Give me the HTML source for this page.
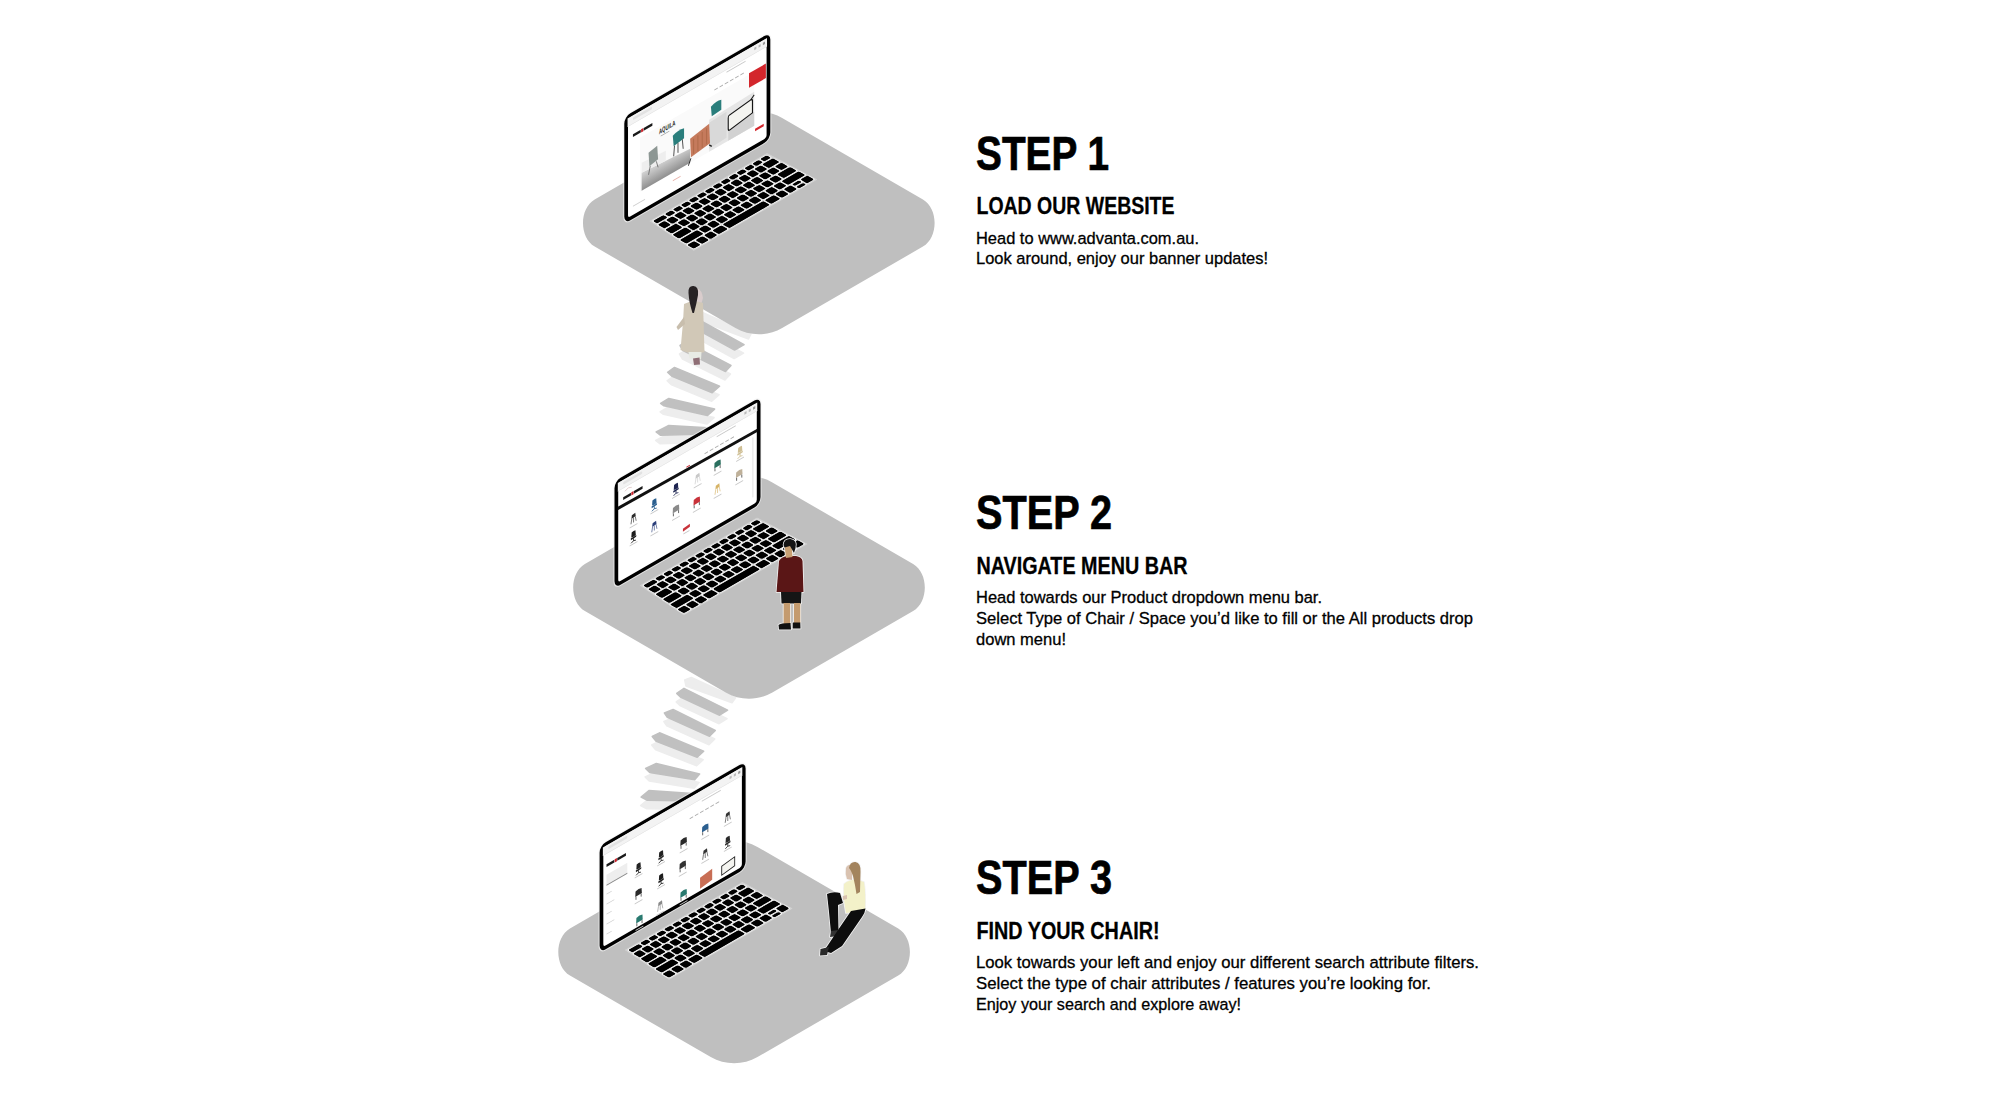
<!DOCTYPE html>
<html><head><meta charset="utf-8"><title>Steps</title>
<style>html,body{margin:0;padding:0;background:#fff;width:2000px;height:1100px;overflow:hidden}svg{display:block}</style>
</head><body><svg width="2000" height="1100" viewBox="0 0 2000 1100"><rect width="2000" height="1100" fill="#fff"/><path d="M690 307L751 334L748.5 339L690 317Z" fill="#ededed" stroke="#ededed" stroke-width="1.5" stroke-linejoin="round"/><path d="M686.5 328.5L692.5 325L743.6 353.2L734.1 358.6L689.5 334Z" fill="#ededed" stroke="#ededed" stroke-width="1.5" stroke-linejoin="round"/><path d="M687 320L693 316.5L744.1 344.7L734.6 350.1L690 325.5Z" fill="#c0c0c0" stroke="#c0c0c0" stroke-width="1.5" stroke-linejoin="round"/><path d="M679.5 354L685.5 350.5L730.5 374L725 380L682.5 359Z" fill="#ededed" stroke="#ededed" stroke-width="1.5" stroke-linejoin="round"/><path d="M680 345.5L686 342L731 365.5L725.5 371.5L683 350.5Z" fill="#c0c0c0" stroke="#c0c0c0" stroke-width="1.5" stroke-linejoin="round"/><path d="M667.1 380.8L674 375.9L719.1 394.7L711.7 401.2L671.6 384.9Z" fill="#ededed" stroke="#ededed" stroke-width="1.5" stroke-linejoin="round"/><path d="M667.6 372.3L674.5 367.4L719.6 386.2L712.2 392.7L672.1 376.4Z" fill="#c0c0c0" stroke="#c0c0c0" stroke-width="1.5" stroke-linejoin="round"/><path d="M660.1 411.9L668.3 407L714.1 417.6L706.8 424.1L663.4 414.3Z" fill="#ededed" stroke="#ededed" stroke-width="1.5" stroke-linejoin="round"/><path d="M660.6 403.4L668.8 398.5L714.6 409.1L707.3 415.6L663.9 405.8Z" fill="#c0c0c0" stroke="#c0c0c0" stroke-width="1.5" stroke-linejoin="round"/><path d="M655.6 440.5L668.3 434L711.5 436.5L705.5 442.5L660.1 443.8Z" fill="#ededed" stroke="#ededed" stroke-width="1.5" stroke-linejoin="round"/><path d="M656.1 432L668.8 425.5L712 428L706 434L660.6 435.3Z" fill="#c0c0c0" stroke="#c0c0c0" stroke-width="1.5" stroke-linejoin="round"/><path d="M684.7 680L691.3 677.4L735.6 697.7L732 702.8L686 686Z" fill="#ededed" stroke="#ededed" stroke-width="1.5" stroke-linejoin="round"/><path d="M676.2 701.9L683.5 696.8L727.1 718.6L719.1 723.7L679.9 705.5Z" fill="#ededed" stroke="#ededed" stroke-width="1.5" stroke-linejoin="round"/><path d="M676.7 693.4L684 688.3L727.6 710.1L719.6 715.2L680.4 697Z" fill="#c0c0c0" stroke="#c0c0c0" stroke-width="1.5" stroke-linejoin="round"/><path d="M663.9 721.5L672.6 717.9L714.8 739L709 744.8L666.8 725.9Z" fill="#ededed" stroke="#ededed" stroke-width="1.5" stroke-linejoin="round"/><path d="M664.4 713L673.1 709.4L715.3 730.5L709.5 736.3L667.3 717.4Z" fill="#c0c0c0" stroke="#c0c0c0" stroke-width="1.5" stroke-linejoin="round"/><path d="M651.7 745L659 741.3L703.2 759.7L696.7 765.8L655.8 749.9Z" fill="#ededed" stroke="#ededed" stroke-width="1.5" stroke-linejoin="round"/><path d="M652.2 736.5L659.5 732.8L703.7 751.2L697.2 757.3L656.3 741.4Z" fill="#c0c0c0" stroke="#c0c0c0" stroke-width="1.5" stroke-linejoin="round"/><path d="M645.1 776.9L655.8 772L699.1 782.6L694.2 788.3L649.2 781Z" fill="#ededed" stroke="#ededed" stroke-width="1.5" stroke-linejoin="round"/><path d="M645.6 768.4L656.3 763.5L699.6 774.1L694.7 779.8L649.7 772.5Z" fill="#c0c0c0" stroke="#c0c0c0" stroke-width="1.5" stroke-linejoin="round"/><path d="M640.6 805.5L648.4 799L699.5 802.5L694.5 809.5L646.8 808.8Z" fill="#ededed" stroke="#ededed" stroke-width="1.5" stroke-linejoin="round"/><path d="M641.1 797L648.9 790.5L700 794L695 801L647.3 800.3Z" fill="#c0c0c0" stroke="#c0c0c0" stroke-width="1.5" stroke-linejoin="round"/><g transform="translate(0,0)"><path d="M594.67 246.55C579.1 237.53 579.1 208.47 594.67 199.45L735.44 117.93C749.71 109.66 767.89 109.66 782.16 117.93L922.93 199.45C938.5 208.47 938.5 237.53 922.93 246.55L782.16 328.07C767.89 336.34 749.71 336.34 735.44 328.07Z" fill="#bfbfbf"/><path d="M620 228 L772 140 L818 166 L668 254Z" fill="#c9c9c9" opacity="0"/><g transform="matrix(0.8660254,-0.5,0.8660254,0.5,652,221)"><path d="M-1.0 -1.0 L133.8 -1.0 L136.6 53.41 L-5.2 53.41 Z" fill="#d2d2d2" stroke="#d2d2d2" stroke-width="1" stroke-linejoin="round"/><g fill="#000" stroke="#fff" stroke-width="0.9"><rect x="-0" y="0" width="13.16" height="5.91" rx="2"/><rect x="13.76" y="0" width="8.57" height="5.91" rx="2"/><rect x="22.93" y="0" width="8.57" height="5.91" rx="2"/><rect x="32.1" y="0" width="8.57" height="5.91" rx="2"/><rect x="41.28" y="0" width="8.57" height="5.91" rx="2"/><rect x="50.45" y="0" width="8.57" height="5.91" rx="2"/><rect x="59.62" y="0" width="8.57" height="5.91" rx="2"/><rect x="68.79" y="0" width="8.57" height="5.91" rx="2"/><rect x="77.97" y="0" width="8.57" height="5.91" rx="2"/><rect x="87.14" y="0" width="8.57" height="5.91" rx="2"/><rect x="96.31" y="0" width="8.57" height="5.91" rx="2"/><rect x="105.48" y="0" width="8.57" height="5.91" rx="2"/><rect x="114.66" y="0" width="8.57" height="5.91" rx="2"/><rect x="123.83" y="0" width="8.57" height="5.91" rx="2"/><rect x="-0.85" y="6.51" width="8.68" height="8.7" rx="2"/><rect x="8.43" y="6.51" width="8.68" height="8.7" rx="2"/><rect x="17.7" y="6.51" width="8.68" height="8.7" rx="2"/><rect x="26.98" y="6.51" width="8.68" height="8.7" rx="2"/><rect x="36.25" y="6.51" width="8.68" height="8.7" rx="2"/><rect x="45.53" y="6.51" width="8.68" height="8.7" rx="2"/><rect x="54.81" y="6.51" width="8.68" height="8.7" rx="2"/><rect x="64.08" y="6.51" width="8.68" height="8.7" rx="2"/><rect x="73.36" y="6.51" width="8.68" height="8.7" rx="2"/><rect x="82.63" y="6.51" width="8.68" height="8.7" rx="2"/><rect x="91.91" y="6.51" width="8.68" height="8.7" rx="2"/><rect x="101.18" y="6.51" width="8.68" height="8.7" rx="2"/><rect x="110.46" y="6.51" width="8.68" height="8.7" rx="2"/><rect x="119.74" y="6.51" width="13.31" height="8.7" rx="2"/><rect x="-1.7" y="15.81" width="13.47" height="8.7" rx="2"/><rect x="12.37" y="15.81" width="8.78" height="8.7" rx="2"/><rect x="21.75" y="15.81" width="8.78" height="8.7" rx="2"/><rect x="31.13" y="15.81" width="8.78" height="8.7" rx="2"/><rect x="40.51" y="15.81" width="8.78" height="8.7" rx="2"/><rect x="49.89" y="15.81" width="8.78" height="8.7" rx="2"/><rect x="59.27" y="15.81" width="8.78" height="8.7" rx="2"/><rect x="68.64" y="15.81" width="8.78" height="8.7" rx="2"/><rect x="78.02" y="15.81" width="8.78" height="8.7" rx="2"/><rect x="87.4" y="15.81" width="8.78" height="8.7" rx="2"/><rect x="96.78" y="15.81" width="8.78" height="8.7" rx="2"/><rect x="106.16" y="15.81" width="8.78" height="8.7" rx="2"/><rect x="115.54" y="15.81" width="8.78" height="8.7" rx="2"/><rect x="124.92" y="15.81" width="8.78" height="8.7" rx="2"/><rect x="-2.55" y="25.11" width="15.99" height="8.7" rx="2"/><rect x="14.04" y="25.11" width="8.88" height="8.7" rx="2"/><rect x="23.53" y="25.11" width="8.88" height="8.7" rx="2"/><rect x="33.01" y="25.11" width="8.88" height="8.7" rx="2"/><rect x="42.49" y="25.11" width="8.88" height="8.7" rx="2"/><rect x="51.98" y="25.11" width="8.88" height="8.7" rx="2"/><rect x="61.46" y="25.11" width="8.88" height="8.7" rx="2"/><rect x="70.94" y="25.11" width="8.88" height="8.7" rx="2"/><rect x="80.42" y="25.11" width="8.88" height="8.7" rx="2"/><rect x="89.91" y="25.11" width="8.88" height="8.7" rx="2"/><rect x="99.39" y="25.11" width="8.88" height="8.7" rx="2"/><rect x="108.87" y="25.11" width="8.88" height="8.7" rx="2"/><rect x="118.36" y="25.11" width="15.99" height="8.7" rx="2"/><rect x="-3.4" y="34.41" width="20.97" height="8.7" rx="2"/><rect x="18.17" y="34.41" width="8.99" height="8.7" rx="2"/><rect x="27.76" y="34.41" width="8.99" height="8.7" rx="2"/><rect x="37.34" y="34.41" width="8.99" height="8.7" rx="2"/><rect x="46.93" y="34.41" width="8.99" height="8.7" rx="2"/><rect x="56.51" y="34.41" width="8.99" height="8.7" rx="2"/><rect x="66.1" y="34.41" width="8.99" height="8.7" rx="2"/><rect x="75.69" y="34.41" width="8.99" height="8.7" rx="2"/><rect x="85.27" y="34.41" width="8.99" height="8.7" rx="2"/><rect x="94.86" y="34.41" width="8.99" height="8.7" rx="2"/><rect x="104.44" y="34.41" width="8.99" height="8.7" rx="2"/><rect x="114.03" y="34.41" width="20.97" height="8.7" rx="2"/><rect x="-4.25" y="43.71" width="9.09" height="8.7" rx="2"/><rect x="5.44" y="43.71" width="9.09" height="8.7" rx="2"/><rect x="15.13" y="43.71" width="9.09" height="8.7" rx="2"/><rect x="24.82" y="43.71" width="11.51" height="8.7" rx="2"/><rect x="36.93" y="43.71" width="47.85" height="8.7" rx="2"/><rect x="85.38" y="43.71" width="11.51" height="8.7" rx="2"/><rect x="97.49" y="43.71" width="9.09" height="8.7" rx="2"/><rect x="107.18" y="43.71" width="9.09" height="8.7" rx="2"/><rect x="116.87" y="43.71" width="9.09" height="4.35" rx="2"/><rect x="116.87" y="48.66" width="9.09" height="4.35" rx="2"/><rect x="126.56" y="43.71" width="9.09" height="8.7" rx="2"/></g></g><g transform="matrix(0.8660254,-0.5,0,1,624.3,116.8)"><rect x="-1.2" y="-1.2" width="171" height="109.4" rx="8" fill="#f2f2f2" opacity="0.7"/><rect x="0" y="0" width="168.6" height="107" rx="7" fill="#000"/><rect x="4.3" y="3.9" width="160" height="99.2" rx="2.5" fill="#fff"/><rect x="3.8" y="3.6" width="161" height="8.5" fill="#f3f3f3"/><rect x="3.8" y="11.6" width="161" height="0.6" fill="#dedede"/><rect x="10" y="5.8" width="22" height="2.6" rx="1" fill="#e2e2e2"/><rect x="150" y="6" width="2.5" height="2.5" fill="#bbb"/><rect x="155" y="6" width="2.5" height="2.5" fill="#bbb"/><rect x="160" y="6" width="2.5" height="2.5" fill="#999"/><rect x="10" y="22.5" width="9" height="2.6" fill="#1a1a1a"/><rect x="19.4" y="22.1" width="2.6" height="3.4" fill="#c8202a"/><rect x="22.4" y="22.5" width="10" height="2.6" fill="#1a1a1a"/><rect x="118" y="14" width="22" height="0.9" fill="#c8c8c8"/><rect x="104" y="24.8" width="4" height="0.9" fill="#aaa"/><rect x="110" y="24.8" width="4" height="0.9" fill="#aaa"/><rect x="116" y="24.8" width="4" height="0.9" fill="#aaa"/><rect x="122" y="24.8" width="4" height="0.9" fill="#aaa"/><rect x="128" y="24.8" width="4" height="0.9" fill="#aaa"/><rect x="134" y="24.8" width="4" height="0.9" fill="#aaa"/><rect x="18" y="30" width="132" height="54" fill="#fafafa"/><defs><linearGradient id="flr" x1="0" y1="0" x2="0" y2="1"><stop offset="0" stop-color="#d4d4d4"/><stop offset="1" stop-color="#8f8f8f"/></linearGradient></defs><path d="M20 66 L76 70 L76 84 L20 84Z" fill="url(#flr)"/><path d="M20 56 L48 58 L48 68 L20 66Z" fill="#eeeeee"/><path d="M98 52 L150 50 L150 84 L98 84Z" fill="#e6e6e6"/><path d="M98 55 L118 54 L118 80 L98 81Z" fill="#d9d9d9"/><path d="M120 72 L150 70 L150 84 L120 84Z" fill="#d2d2d2"/><text x="40" y="37.6" font-family="Liberation Sans, sans-serif" font-weight="bold" font-size="7.2" textLength="19" lengthAdjust="spacingAndGlyphs" fill="#222">AQUILA</text><rect x="42" y="40" width="10" height="0.8" fill="#999"/><path d="M28 50 L38 48 L39 62 L29 64Z" fill="#8d9794"/><path d="M30 64 L28 72 M37 63 L39 70" stroke="#666" stroke-width="0.8"/><path d="M56 47 Q62 44 69 46 L69 56 L57 58Z" fill="#2a7e7c"/><path d="M58 58 L57 68 M62 57 L62 67 M67 56 L68 66" stroke="#333" stroke-width="0.8"/><path d="M76 60 L98 56 L99 76 L77 79Z" fill="#c57a5c"/><path d="M80 62 L80 77 M85 61 L85 77 M90 60 L90 76 M95 59 L95 75" stroke="#a5603f" stroke-width="0.6"/><path d="M77 80 L74 86 M98 77 L101 80" stroke="#222" stroke-width="1.1"/><path d="M100 40 Q106 37 112 39 L112 49 L101 50Z" fill="#2a7e7c"/><path d="M121 59 L146 56 Q148 56 148 58 L148 70 L122 74 Q120 74 120 72 L120 61 Q120 59 121 59Z" fill="#f4f4f0" stroke="#151515" stroke-width="1.3"/><path d="M146 56 L150 53" stroke="#151515" stroke-width="1.3"/><rect x="144" y="28.5" width="19.5" height="14.5" fill="#d3262c"/><rect x="151" y="87.5" width="10" height="2.4" fill="#d3262c"/><rect x="56" y="91.5" width="9" height="0.9" fill="#e8b0a8"/><rect x="10" y="94" width="14" height="0.9" fill="#cfcfcf"/></g></g><g transform="translate(-9.8,364.5)"><path d="M594.67 246.55C579.1 237.53 579.1 208.47 594.67 199.45L735.44 117.93C749.71 109.66 767.89 109.66 782.16 117.93L922.93 199.45C938.5 208.47 938.5 237.53 922.93 246.55L782.16 328.07C767.89 336.34 749.71 336.34 735.44 328.07Z" fill="#bfbfbf"/><path d="M620 228 L772 140 L818 166 L668 254Z" fill="#c9c9c9" opacity="0"/><g transform="matrix(0.8660254,-0.5,0.8660254,0.5,652,221)"><path d="M-1.0 -1.0 L133.8 -1.0 L136.6 53.41 L-5.2 53.41 Z" fill="#d2d2d2" stroke="#d2d2d2" stroke-width="1" stroke-linejoin="round"/><g fill="#000" stroke="#fff" stroke-width="0.9"><rect x="-0" y="0" width="13.16" height="5.91" rx="2"/><rect x="13.76" y="0" width="8.57" height="5.91" rx="2"/><rect x="22.93" y="0" width="8.57" height="5.91" rx="2"/><rect x="32.1" y="0" width="8.57" height="5.91" rx="2"/><rect x="41.28" y="0" width="8.57" height="5.91" rx="2"/><rect x="50.45" y="0" width="8.57" height="5.91" rx="2"/><rect x="59.62" y="0" width="8.57" height="5.91" rx="2"/><rect x="68.79" y="0" width="8.57" height="5.91" rx="2"/><rect x="77.97" y="0" width="8.57" height="5.91" rx="2"/><rect x="87.14" y="0" width="8.57" height="5.91" rx="2"/><rect x="96.31" y="0" width="8.57" height="5.91" rx="2"/><rect x="105.48" y="0" width="8.57" height="5.91" rx="2"/><rect x="114.66" y="0" width="8.57" height="5.91" rx="2"/><rect x="123.83" y="0" width="8.57" height="5.91" rx="2"/><rect x="-0.85" y="6.51" width="8.68" height="8.7" rx="2"/><rect x="8.43" y="6.51" width="8.68" height="8.7" rx="2"/><rect x="17.7" y="6.51" width="8.68" height="8.7" rx="2"/><rect x="26.98" y="6.51" width="8.68" height="8.7" rx="2"/><rect x="36.25" y="6.51" width="8.68" height="8.7" rx="2"/><rect x="45.53" y="6.51" width="8.68" height="8.7" rx="2"/><rect x="54.81" y="6.51" width="8.68" height="8.7" rx="2"/><rect x="64.08" y="6.51" width="8.68" height="8.7" rx="2"/><rect x="73.36" y="6.51" width="8.68" height="8.7" rx="2"/><rect x="82.63" y="6.51" width="8.68" height="8.7" rx="2"/><rect x="91.91" y="6.51" width="8.68" height="8.7" rx="2"/><rect x="101.18" y="6.51" width="8.68" height="8.7" rx="2"/><rect x="110.46" y="6.51" width="8.68" height="8.7" rx="2"/><rect x="119.74" y="6.51" width="13.31" height="8.7" rx="2"/><rect x="-1.7" y="15.81" width="13.47" height="8.7" rx="2"/><rect x="12.37" y="15.81" width="8.78" height="8.7" rx="2"/><rect x="21.75" y="15.81" width="8.78" height="8.7" rx="2"/><rect x="31.13" y="15.81" width="8.78" height="8.7" rx="2"/><rect x="40.51" y="15.81" width="8.78" height="8.7" rx="2"/><rect x="49.89" y="15.81" width="8.78" height="8.7" rx="2"/><rect x="59.27" y="15.81" width="8.78" height="8.7" rx="2"/><rect x="68.64" y="15.81" width="8.78" height="8.7" rx="2"/><rect x="78.02" y="15.81" width="8.78" height="8.7" rx="2"/><rect x="87.4" y="15.81" width="8.78" height="8.7" rx="2"/><rect x="96.78" y="15.81" width="8.78" height="8.7" rx="2"/><rect x="106.16" y="15.81" width="8.78" height="8.7" rx="2"/><rect x="115.54" y="15.81" width="8.78" height="8.7" rx="2"/><rect x="124.92" y="15.81" width="8.78" height="8.7" rx="2"/><rect x="-2.55" y="25.11" width="15.99" height="8.7" rx="2"/><rect x="14.04" y="25.11" width="8.88" height="8.7" rx="2"/><rect x="23.53" y="25.11" width="8.88" height="8.7" rx="2"/><rect x="33.01" y="25.11" width="8.88" height="8.7" rx="2"/><rect x="42.49" y="25.11" width="8.88" height="8.7" rx="2"/><rect x="51.98" y="25.11" width="8.88" height="8.7" rx="2"/><rect x="61.46" y="25.11" width="8.88" height="8.7" rx="2"/><rect x="70.94" y="25.11" width="8.88" height="8.7" rx="2"/><rect x="80.42" y="25.11" width="8.88" height="8.7" rx="2"/><rect x="89.91" y="25.11" width="8.88" height="8.7" rx="2"/><rect x="99.39" y="25.11" width="8.88" height="8.7" rx="2"/><rect x="108.87" y="25.11" width="8.88" height="8.7" rx="2"/><rect x="118.36" y="25.11" width="15.99" height="8.7" rx="2"/><rect x="-3.4" y="34.41" width="20.97" height="8.7" rx="2"/><rect x="18.17" y="34.41" width="8.99" height="8.7" rx="2"/><rect x="27.76" y="34.41" width="8.99" height="8.7" rx="2"/><rect x="37.34" y="34.41" width="8.99" height="8.7" rx="2"/><rect x="46.93" y="34.41" width="8.99" height="8.7" rx="2"/><rect x="56.51" y="34.41" width="8.99" height="8.7" rx="2"/><rect x="66.1" y="34.41" width="8.99" height="8.7" rx="2"/><rect x="75.69" y="34.41" width="8.99" height="8.7" rx="2"/><rect x="85.27" y="34.41" width="8.99" height="8.7" rx="2"/><rect x="94.86" y="34.41" width="8.99" height="8.7" rx="2"/><rect x="104.44" y="34.41" width="8.99" height="8.7" rx="2"/><rect x="114.03" y="34.41" width="20.97" height="8.7" rx="2"/><rect x="-4.25" y="43.71" width="9.09" height="8.7" rx="2"/><rect x="5.44" y="43.71" width="9.09" height="8.7" rx="2"/><rect x="15.13" y="43.71" width="9.09" height="8.7" rx="2"/><rect x="24.82" y="43.71" width="11.51" height="8.7" rx="2"/><rect x="36.93" y="43.71" width="47.85" height="8.7" rx="2"/><rect x="85.38" y="43.71" width="11.51" height="8.7" rx="2"/><rect x="97.49" y="43.71" width="9.09" height="8.7" rx="2"/><rect x="107.18" y="43.71" width="9.09" height="8.7" rx="2"/><rect x="116.87" y="43.71" width="9.09" height="4.35" rx="2"/><rect x="116.87" y="48.66" width="9.09" height="4.35" rx="2"/><rect x="126.56" y="43.71" width="9.09" height="8.7" rx="2"/></g></g><g transform="matrix(0.8660254,-0.5,0,1,624.3,116.8)"><rect x="-1.2" y="-1.2" width="171" height="109.4" rx="8" fill="#f2f2f2" opacity="0.7"/><rect x="0" y="0" width="168.6" height="107" rx="7" fill="#000"/><rect x="4.3" y="3.9" width="160" height="99.2" rx="2.5" fill="#fff"/><rect x="3.8" y="3.6" width="161" height="8.5" fill="#f3f3f3"/><rect x="3.8" y="11.6" width="161" height="0.6" fill="#dedede"/><rect x="10" y="5.8" width="22" height="2.6" rx="1" fill="#e2e2e2"/><rect x="150" y="6" width="2.5" height="2.5" fill="#bbb"/><rect x="155" y="6" width="2.5" height="2.5" fill="#bbb"/><rect x="160" y="6" width="2.5" height="2.5" fill="#999"/><path d="M12 16 Q16 13 20 16" stroke="#e0c8c8" stroke-width="0.8" fill="none"/><rect x="10" y="21" width="9" height="2.6" fill="#1a1a1a"/><rect x="19.4" y="20.6" width="2.6" height="3.4" fill="#c8202a"/><rect x="22.4" y="21" width="10" height="2.6" fill="#1a1a1a"/><rect x="118" y="14" width="22" height="0.9" fill="#c8c8c8"/><rect x="104" y="24" width="4" height="0.9" fill="#aaa"/><rect x="110" y="24" width="4" height="0.9" fill="#aaa"/><rect x="116" y="24" width="4" height="0.9" fill="#aaa"/><rect x="122" y="24" width="4" height="0.9" fill="#aaa"/><rect x="128" y="24" width="4" height="0.9" fill="#aaa"/><rect x="134" y="24" width="4" height="0.9" fill="#aaa"/><path d="M3.8 27.4 L164.8 29.8 L164.8 33.2 L3.8 30.8Z" fill="#111"/><rect x="83" y="27" width="4" height="1" fill="#c8202a"/><rect x="159.5" y="36" width="0.7" height="60" fill="#cfcfcf"/><g transform="translate(22,43) scale(1)"><path d="M-2 1 L2 0.5 L2.5 4 L-2.5 4.5Z" fill="#2a2a2a"/><path d="M-2 4.5 L-3 9.5 M2 4 L3 9 M0 4.3 L0 9.2" stroke="#2a2a2a" stroke-width="0.6"/></g><rect x="17.5" y="55" width="9" height="0.9" fill="#c8c8c8"/><g transform="translate(46,41) scale(1)"><path d="M-2.2 0 Q0 -0.8 2.2 0 L2.6 5 Q0 5.8 -2.6 5Z" fill="#2b5f8f"/><path d="M-3.2 5.6 L3.2 5.2 L3 7 L-3 7.4Z" fill="#2b5f8f"/><path d="M0 7 L0 9.5 M-2.8 10.6 L0 9.4 L2.8 10.2" stroke="#2b5f8f" stroke-width="0.8" fill="none"/></g><rect x="41.5" y="53" width="9" height="0.9" fill="#c8c8c8"/><g transform="translate(71,38) scale(1)"><path d="M-2.2 0 Q0 -0.8 2.2 0 L2.6 5 Q0 5.8 -2.6 5Z" fill="#1d2450"/><path d="M-3.2 5.6 L3.2 5.2 L3 7 L-3 7.4Z" fill="#1d2450"/><path d="M0 7 L0 9.5 M-2.8 10.6 L0 9.4 L2.8 10.2" stroke="#1d2450" stroke-width="0.8" fill="none"/></g><rect x="66.5" y="50" width="9" height="0.9" fill="#c8c8c8"/><g transform="translate(96,40) scale(1)"><path d="M-2 1 L2 0.5 L2.5 4 L-2.5 4.5Z" fill="#c8c8c8"/><path d="M-2 4.5 L-3 9.5 M2 4 L3 9 M0 4.3 L0 9.2" stroke="#c8c8c8" stroke-width="0.6"/></g><rect x="91.5" y="52" width="9" height="0.9" fill="#c8c8c8"/><g transform="translate(119,39) scale(1)"><path d="M-3.5 0.5 Q0 -1 3.5 0.5 L3.8 5.5 L-3.8 5.8Z" fill="#2a6f5f"/><path d="M-3 6 L-3 9 M3 5.8 L3 8.8" stroke="#333" stroke-width="0.7"/></g><rect x="114.5" y="51" width="9" height="0.9" fill="#c8c8c8"/><g transform="translate(145,38) scale(1)"><path d="M-2.2 0 Q0 -0.8 2.2 0 L2.6 5 Q0 5.8 -2.6 5Z" fill="#cfbf95"/><path d="M-3.2 5.6 L3.2 5.2 L3 7 L-3 7.4Z" fill="#cfbf95"/><path d="M0 7 L0 9.5 M-2.8 10.6 L0 9.4 L2.8 10.2" stroke="#cfbf95" stroke-width="0.8" fill="none"/></g><rect x="140.5" y="50" width="9" height="0.9" fill="#c8c8c8"/><g transform="translate(22,61) scale(1)"><path d="M-2.2 0 Q0 -0.8 2.2 0 L2.6 5 Q0 5.8 -2.6 5Z" fill="#1c1c1c"/><path d="M-3.2 5.6 L3.2 5.2 L3 7 L-3 7.4Z" fill="#1c1c1c"/><path d="M0 7 L0 9.5 M-2.8 10.6 L0 9.4 L2.8 10.2" stroke="#1c1c1c" stroke-width="0.8" fill="none"/></g><rect x="17.5" y="73" width="9" height="0.9" fill="#c8c8c8"/><g transform="translate(46,63) scale(1)"><path d="M-2 1 L2 0.5 L2.5 4 L-2.5 4.5Z" fill="#2b3f7a"/><path d="M-2 4.5 L-3 9.5 M2 4 L3 9 M0 4.3 L0 9.2" stroke="#2b3f7a" stroke-width="0.6"/></g><rect x="41.5" y="75" width="9" height="0.9" fill="#c8c8c8"/><g transform="translate(71,60) scale(1)"><path d="M-3.5 0.5 Q0 -1 3.5 0.5 L3.8 5.5 L-3.8 5.8Z" fill="#8a8a8a"/><path d="M-3 6 L-3 9 M3 5.8 L3 8.8" stroke="#333" stroke-width="0.7"/></g><rect x="66.5" y="72" width="9" height="0.9" fill="#c8c8c8"/><g transform="translate(95,64) scale(1)"><path d="M-3.5 0.5 Q0 -1 3.5 0.5 L3.8 5.5 L-3.8 5.8Z" fill="#c8323a"/><path d="M-3 6 L-3 9 M3 5.8 L3 8.8" stroke="#333" stroke-width="0.7"/></g><rect x="90.5" y="76" width="9" height="0.9" fill="#c8c8c8"/><g transform="translate(119,62) scale(1)"><path d="M-2 1 L2 0.5 L2.5 4 L-2.5 4.5Z" fill="#d6b366"/><path d="M-2 4.5 L-3 9.5 M2 4 L3 9 M0 4.3 L0 9.2" stroke="#d6b366" stroke-width="0.6"/></g><rect x="114.5" y="74" width="9" height="0.9" fill="#c8c8c8"/><g transform="translate(144,61) scale(1)"><path d="M-3.5 0.5 Q0 -1 3.5 0.5 L3.8 5.5 L-3.8 5.8Z" fill="#bfb19a"/><path d="M-3 6 L-3 9 M3 5.8 L3 8.8" stroke="#333" stroke-width="0.7"/></g><rect x="139.5" y="73" width="9" height="0.9" fill="#c8c8c8"/><path d="M79 87 L87 86 L87 89 L79 90Z" fill="#c8323a"/><rect x="79.5" y="92" width="7" height="0.9" fill="#c8c8c8"/></g></g><g transform="translate(-24.7,729)"><path d="M594.67 246.55C579.1 237.53 579.1 208.47 594.67 199.45L735.44 117.93C749.71 109.66 767.89 109.66 782.16 117.93L922.93 199.45C938.5 208.47 938.5 237.53 922.93 246.55L782.16 328.07C767.89 336.34 749.71 336.34 735.44 328.07Z" fill="#bfbfbf"/><path d="M620 228 L772 140 L818 166 L668 254Z" fill="#c9c9c9" opacity="0"/><g transform="matrix(0.8660254,-0.5,0.8660254,0.5,652,221)"><path d="M-1.0 -1.0 L133.8 -1.0 L136.6 53.41 L-5.2 53.41 Z" fill="#d2d2d2" stroke="#d2d2d2" stroke-width="1" stroke-linejoin="round"/><g fill="#000" stroke="#fff" stroke-width="0.9"><rect x="-0" y="0" width="13.16" height="5.91" rx="2"/><rect x="13.76" y="0" width="8.57" height="5.91" rx="2"/><rect x="22.93" y="0" width="8.57" height="5.91" rx="2"/><rect x="32.1" y="0" width="8.57" height="5.91" rx="2"/><rect x="41.28" y="0" width="8.57" height="5.91" rx="2"/><rect x="50.45" y="0" width="8.57" height="5.91" rx="2"/><rect x="59.62" y="0" width="8.57" height="5.91" rx="2"/><rect x="68.79" y="0" width="8.57" height="5.91" rx="2"/><rect x="77.97" y="0" width="8.57" height="5.91" rx="2"/><rect x="87.14" y="0" width="8.57" height="5.91" rx="2"/><rect x="96.31" y="0" width="8.57" height="5.91" rx="2"/><rect x="105.48" y="0" width="8.57" height="5.91" rx="2"/><rect x="114.66" y="0" width="8.57" height="5.91" rx="2"/><rect x="123.83" y="0" width="8.57" height="5.91" rx="2"/><rect x="-0.85" y="6.51" width="8.68" height="8.7" rx="2"/><rect x="8.43" y="6.51" width="8.68" height="8.7" rx="2"/><rect x="17.7" y="6.51" width="8.68" height="8.7" rx="2"/><rect x="26.98" y="6.51" width="8.68" height="8.7" rx="2"/><rect x="36.25" y="6.51" width="8.68" height="8.7" rx="2"/><rect x="45.53" y="6.51" width="8.68" height="8.7" rx="2"/><rect x="54.81" y="6.51" width="8.68" height="8.7" rx="2"/><rect x="64.08" y="6.51" width="8.68" height="8.7" rx="2"/><rect x="73.36" y="6.51" width="8.68" height="8.7" rx="2"/><rect x="82.63" y="6.51" width="8.68" height="8.7" rx="2"/><rect x="91.91" y="6.51" width="8.68" height="8.7" rx="2"/><rect x="101.18" y="6.51" width="8.68" height="8.7" rx="2"/><rect x="110.46" y="6.51" width="8.68" height="8.7" rx="2"/><rect x="119.74" y="6.51" width="13.31" height="8.7" rx="2"/><rect x="-1.7" y="15.81" width="13.47" height="8.7" rx="2"/><rect x="12.37" y="15.81" width="8.78" height="8.7" rx="2"/><rect x="21.75" y="15.81" width="8.78" height="8.7" rx="2"/><rect x="31.13" y="15.81" width="8.78" height="8.7" rx="2"/><rect x="40.51" y="15.81" width="8.78" height="8.7" rx="2"/><rect x="49.89" y="15.81" width="8.78" height="8.7" rx="2"/><rect x="59.27" y="15.81" width="8.78" height="8.7" rx="2"/><rect x="68.64" y="15.81" width="8.78" height="8.7" rx="2"/><rect x="78.02" y="15.81" width="8.78" height="8.7" rx="2"/><rect x="87.4" y="15.81" width="8.78" height="8.7" rx="2"/><rect x="96.78" y="15.81" width="8.78" height="8.7" rx="2"/><rect x="106.16" y="15.81" width="8.78" height="8.7" rx="2"/><rect x="115.54" y="15.81" width="8.78" height="8.7" rx="2"/><rect x="124.92" y="15.81" width="8.78" height="8.7" rx="2"/><rect x="-2.55" y="25.11" width="15.99" height="8.7" rx="2"/><rect x="14.04" y="25.11" width="8.88" height="8.7" rx="2"/><rect x="23.53" y="25.11" width="8.88" height="8.7" rx="2"/><rect x="33.01" y="25.11" width="8.88" height="8.7" rx="2"/><rect x="42.49" y="25.11" width="8.88" height="8.7" rx="2"/><rect x="51.98" y="25.11" width="8.88" height="8.7" rx="2"/><rect x="61.46" y="25.11" width="8.88" height="8.7" rx="2"/><rect x="70.94" y="25.11" width="8.88" height="8.7" rx="2"/><rect x="80.42" y="25.11" width="8.88" height="8.7" rx="2"/><rect x="89.91" y="25.11" width="8.88" height="8.7" rx="2"/><rect x="99.39" y="25.11" width="8.88" height="8.7" rx="2"/><rect x="108.87" y="25.11" width="8.88" height="8.7" rx="2"/><rect x="118.36" y="25.11" width="15.99" height="8.7" rx="2"/><rect x="-3.4" y="34.41" width="20.97" height="8.7" rx="2"/><rect x="18.17" y="34.41" width="8.99" height="8.7" rx="2"/><rect x="27.76" y="34.41" width="8.99" height="8.7" rx="2"/><rect x="37.34" y="34.41" width="8.99" height="8.7" rx="2"/><rect x="46.93" y="34.41" width="8.99" height="8.7" rx="2"/><rect x="56.51" y="34.41" width="8.99" height="8.7" rx="2"/><rect x="66.1" y="34.41" width="8.99" height="8.7" rx="2"/><rect x="75.69" y="34.41" width="8.99" height="8.7" rx="2"/><rect x="85.27" y="34.41" width="8.99" height="8.7" rx="2"/><rect x="94.86" y="34.41" width="8.99" height="8.7" rx="2"/><rect x="104.44" y="34.41" width="8.99" height="8.7" rx="2"/><rect x="114.03" y="34.41" width="20.97" height="8.7" rx="2"/><rect x="-4.25" y="43.71" width="9.09" height="8.7" rx="2"/><rect x="5.44" y="43.71" width="9.09" height="8.7" rx="2"/><rect x="15.13" y="43.71" width="9.09" height="8.7" rx="2"/><rect x="24.82" y="43.71" width="11.51" height="8.7" rx="2"/><rect x="36.93" y="43.71" width="47.85" height="8.7" rx="2"/><rect x="85.38" y="43.71" width="11.51" height="8.7" rx="2"/><rect x="97.49" y="43.71" width="9.09" height="8.7" rx="2"/><rect x="107.18" y="43.71" width="9.09" height="8.7" rx="2"/><rect x="116.87" y="43.71" width="9.09" height="4.35" rx="2"/><rect x="116.87" y="48.66" width="9.09" height="4.35" rx="2"/><rect x="126.56" y="43.71" width="9.09" height="8.7" rx="2"/></g></g><g transform="matrix(0.8660254,-0.5,0,1,624.3,116.8)"><rect x="-1.2" y="-1.2" width="171" height="109.4" rx="8" fill="#f2f2f2" opacity="0.7"/><rect x="0" y="0" width="168.6" height="107" rx="7" fill="#000"/><rect x="4.3" y="3.9" width="160" height="99.2" rx="2.5" fill="#fff"/><rect x="3.8" y="3.6" width="161" height="8.5" fill="#f3f3f3"/><rect x="3.8" y="11.6" width="161" height="0.6" fill="#dedede"/><rect x="10" y="5.8" width="22" height="2.6" rx="1" fill="#e2e2e2"/><rect x="150" y="6" width="2.5" height="2.5" fill="#bbb"/><rect x="155" y="6" width="2.5" height="2.5" fill="#bbb"/><rect x="160" y="6" width="2.5" height="2.5" fill="#999"/><rect x="8" y="22.5" width="9" height="2.6" fill="#1a1a1a"/><rect x="17.4" y="22.1" width="2.6" height="3.4" fill="#c8202a"/><rect x="20.4" y="22.5" width="10" height="2.6" fill="#1a1a1a"/><rect x="118" y="14" width="22" height="0.9" fill="#c8c8c8"/><rect x="104" y="24.5" width="4" height="0.9" fill="#aaa"/><rect x="110" y="24.5" width="4" height="0.9" fill="#aaa"/><rect x="116" y="24.5" width="4" height="0.9" fill="#aaa"/><rect x="122" y="24.5" width="4" height="0.9" fill="#aaa"/><rect x="128" y="24.5" width="4" height="0.9" fill="#aaa"/><rect x="134" y="24.5" width="4" height="0.9" fill="#aaa"/><rect x="8" y="33" width="24" height="11" fill="#eeeeee"/><rect x="8" y="43" width="24" height="1" fill="#888"/><rect x="8" y="52" width="6" height="0.8" fill="#cdcdcd"/><rect x="8" y="62" width="9" height="0.8" fill="#cdcdcd"/><rect x="8" y="72" width="6" height="0.8" fill="#cdcdcd"/><rect x="8" y="82" width="9" height="0.8" fill="#cdcdcd"/><rect x="8" y="92" width="6" height="0.8" fill="#cdcdcd"/><g transform="translate(45,40) scale(1)"><path d="M-2.2 0 Q0 -0.8 2.2 0 L2.6 5 Q0 5.8 -2.6 5Z" fill="#222"/><path d="M-3.2 5.6 L3.2 5.2 L3 7 L-3 7.4Z" fill="#222"/><path d="M0 7 L0 9.5 M-2.8 10.6 L0 9.4 L2.8 10.2" stroke="#222" stroke-width="0.8" fill="none"/></g><rect x="40.5" y="52" width="9" height="0.9" fill="#c8c8c8"/><g transform="translate(71,41) scale(1)"><path d="M-2.2 0 Q0 -0.8 2.2 0 L2.6 5 Q0 5.8 -2.6 5Z" fill="#222"/><path d="M-3.2 5.6 L3.2 5.2 L3 7 L-3 7.4Z" fill="#222"/><path d="M0 7 L0 9.5 M-2.8 10.6 L0 9.4 L2.8 10.2" stroke="#222" stroke-width="0.8" fill="none"/></g><rect x="66.5" y="53" width="9" height="0.9" fill="#c8c8c8"/><g transform="translate(97,41) scale(1)"><path d="M-3.5 0.5 Q0 -1 3.5 0.5 L3.8 5.5 L-3.8 5.8Z" fill="#2a2a2a"/><path d="M-3 6 L-3 9 M3 5.8 L3 8.8" stroke="#333" stroke-width="0.7"/></g><rect x="92.5" y="53" width="9" height="0.9" fill="#c8c8c8"/><g transform="translate(122,40) scale(1)"><path d="M-3.5 0.5 Q0 -1 3.5 0.5 L3.8 5.5 L-3.8 5.8Z" fill="#2b5f8f"/><path d="M-3 6 L-3 9 M3 5.8 L3 8.8" stroke="#333" stroke-width="0.7"/></g><rect x="117.5" y="52" width="9" height="0.9" fill="#c8c8c8"/><g transform="translate(148,40) scale(1)"><path d="M-2 1 L2 0.5 L2.5 4 L-2.5 4.5Z" fill="#333"/><path d="M-2 4.5 L-3 9.5 M2 4 L3 9 M0 4.3 L0 9.2" stroke="#333" stroke-width="0.6"/></g><rect x="143.5" y="52" width="9" height="0.9" fill="#c8c8c8"/><g transform="translate(45,66) scale(1)"><path d="M-3.5 0.5 Q0 -1 3.5 0.5 L3.8 5.5 L-3.8 5.8Z" fill="#2a2a2a"/><path d="M-3 6 L-3 9 M3 5.8 L3 8.8" stroke="#333" stroke-width="0.7"/></g><rect x="40.5" y="78" width="9" height="0.9" fill="#c8c8c8"/><g transform="translate(71,64) scale(1)"><path d="M-2.2 0 Q0 -0.8 2.2 0 L2.6 5 Q0 5.8 -2.6 5Z" fill="#1c1c1c"/><path d="M-3.2 5.6 L3.2 5.2 L3 7 L-3 7.4Z" fill="#1c1c1c"/><path d="M0 7 L0 9.5 M-2.8 10.6 L0 9.4 L2.8 10.2" stroke="#1c1c1c" stroke-width="0.8" fill="none"/></g><rect x="66.5" y="76" width="9" height="0.9" fill="#c8c8c8"/><g transform="translate(96,64) scale(1)"><path d="M-3.5 0.5 Q0 -1 3.5 0.5 L3.8 5.5 L-3.8 5.8Z" fill="#333"/><path d="M-3 6 L-3 9 M3 5.8 L3 8.8" stroke="#333" stroke-width="0.7"/></g><rect x="91.5" y="76" width="9" height="0.9" fill="#c8c8c8"/><g transform="translate(122,64) scale(1)"><path d="M-2 1 L2 0.5 L2.5 4 L-2.5 4.5Z" fill="#333"/><path d="M-2 4.5 L-3 9.5 M2 4 L3 9 M0 4.3 L0 9.2" stroke="#333" stroke-width="0.6"/></g><rect x="117.5" y="76" width="9" height="0.9" fill="#c8c8c8"/><g transform="translate(148,65) scale(1)"><path d="M-2.2 0 Q0 -0.8 2.2 0 L2.6 5 Q0 5.8 -2.6 5Z" fill="#2a2a2a"/><path d="M-3.2 5.6 L3.2 5.2 L3 7 L-3 7.4Z" fill="#2a2a2a"/><path d="M0 7 L0 9.5 M-2.8 10.6 L0 9.4 L2.8 10.2" stroke="#2a2a2a" stroke-width="0.8" fill="none"/></g><rect x="143.5" y="77" width="9" height="0.9" fill="#c8c8c8"/><g transform="translate(46,93) scale(1)"><path d="M-3.5 0.5 Q0 -1 3.5 0.5 L3.8 5.5 L-3.8 5.8Z" fill="#2a7a70"/><path d="M-3 6 L-3 9 M3 5.8 L3 8.8" stroke="#333" stroke-width="0.7"/></g><rect x="41.5" y="105" width="9" height="0.9" fill="#c8c8c8"/><g transform="translate(70,90) scale(1)"><path d="M-2 1 L2 0.5 L2.5 4 L-2.5 4.5Z" fill="#8a8a8a"/><path d="M-2 4.5 L-3 9.5 M2 4 L3 9 M0 4.3 L0 9.2" stroke="#8a8a8a" stroke-width="0.6"/></g><rect x="65.5" y="102" width="9" height="0.9" fill="#c8c8c8"/><g transform="translate(97,93) scale(1)"><path d="M-3.5 0.5 Q0 -1 3.5 0.5 L3.8 5.5 L-3.8 5.8Z" fill="#2a7a70"/><path d="M-3 6 L-3 9 M3 5.8 L3 8.8" stroke="#333" stroke-width="0.7"/></g><rect x="92.5" y="105" width="9" height="0.9" fill="#c8c8c8"/><path d="M116 90 L130 88 L130 99 L116 101Z" fill="#c86e55"/><path d="M141 91 L156 89 L156 98 L141 100Z" fill="#f4f4f0" stroke="#222" stroke-width="1"/></g></g><g stroke="#f4f4f4" stroke-width="1.6" stroke-linejoin="round"><path d="M779 561 Q781 557 787 556 L796 556 Q802 557 802.5 561 L803.5 592 L776.5 592Z" fill="#5a1616"/><path d="M781 592 L801.5 592 L801 603.5 L781.5 603.5Z" fill="#151515"/><rect x="783.6" y="603" width="6.6" height="21" fill="#c49b6f"/><rect x="794" y="603" width="6.3" height="20" fill="#c49b6f"/><path d="M778.5 625 Q780 623 790.5 623 L791 629.5 L779 629.5Z" fill="#111"/><path d="M792.7 622.5 L800.3 622.5 L800.5 628.5 L792.7 628.5Z" fill="#111"/><path d="M784.5 545 L791.5 545 L792.5 557 L786 558Z" fill="#c8a074"/><path d="M783.5 545 Q784 538.5 790.5 539 Q797.5 540 795.5 548 L794 553 L790 546 L784.5 547.5Z" fill="#141414"/><path d="M844 884 Q850 879 858 880 L864 882 Q866 895 865 911 L846 913 Q843 898 844 884Z" fill="#f3f1c9"/><path d="M846 868 Q848 864 852 865 L852 880 L847 879 Q845 874 846 868Z" fill="#d9c2b0"/><path d="M827 894 Q833 891 840 893 L843 903 L838 905 L838.5 931 L831 933 L829 912Z" fill="#0d0d0d"/><path d="M831 931 L839 930 L838 936 L830 937Z" fill="#333"/><path d="M851 911 L865.5 908.5 Q865 913 862 917 L842 946 L831 953 L824 951 L838 930Z" fill="#0d0d0d"/><path d="M820.5 949 L829 947 L827 955 L820 955.5Z" fill="#2a2a2a"/><path d="M843 896 L847 895 L847 899 L843 900Z" fill="#d9c2b0"/><path d="M849 868 Q850 861.5 855.5 862 Q861 863 860.5 872 L860 892 L856.5 894 Q855 884 853 876 Q851 870 849 868Z" fill="#a3845e"/></g><path d="M697 288 Q702 290 703 298 L701 305 L696 304Z" fill="#d9cccc"/><path d="M684 304 Q693 299 703 303 L704.5 352 Q694 356 680.5 350 L683 322Z" fill="#d1c8b7"/><path d="M684 317 L676.5 327 L678 330 L685 324Z" fill="#c8bead"/><path d="M688.5 352 L701.5 352 L701 359.5 L689.5 358.5Z" fill="#e8ebe4"/><path d="M693 358.5 L699.5 357.5 L700 364.5 L694 365Z" fill="#8f6f76"/><path d="M688.5 293 Q688 285.5 693.5 286 Q699 286.5 698 295 Q696.5 304 694 313 L692.5 313 Q689 302 688.5 293Z" fill="#272224"/><path d="M779 561 Q781 557 787 556 L796 556 Q802 557 802.5 561 L803.5 592 L776.5 592Z" fill="#5a1616"/><path d="M781 592 L801.5 592 L801 603.5 L781.5 603.5Z" fill="#151515"/><rect x="783.6" y="603" width="6.6" height="21" fill="#c49b6f"/><rect x="794" y="603" width="6.3" height="20" fill="#c49b6f"/><path d="M778.5 625 Q780 623 790.5 623 L791 629.5 L779 629.5Z" fill="#111"/><path d="M792.7 622.5 L800.3 622.5 L800.5 628.5 L792.7 628.5Z" fill="#111"/><path d="M784.5 545 L791.5 545 L792.5 557 L786 558Z" fill="#c8a074"/><path d="M783.5 545 Q784 538.5 790.5 539 Q797.5 540 795.5 548 L794 553 L790 546 L784.5 547.5Z" fill="#141414"/><path d="M844 884 Q850 879 858 880 L864 882 Q866 895 865 911 L846 913 Q843 898 844 884Z" fill="#f3f1c9"/><path d="M846 868 Q848 864 852 865 L852 880 L847 879 Q845 874 846 868Z" fill="#d9c2b0"/><path d="M827 894 Q833 891 840 893 L843 903 L838 905 L838.5 931 L831 933 L829 912Z" fill="#0d0d0d"/><path d="M831 931 L839 930 L838 936 L830 937Z" fill="#333"/><path d="M851 911 L865.5 908.5 Q865 913 862 917 L842 946 L831 953 L824 951 L838 930Z" fill="#0d0d0d"/><path d="M820.5 949 L829 947 L827 955 L820 955.5Z" fill="#2a2a2a"/><path d="M843 896 L847 895 L847 899 L843 900Z" fill="#d9c2b0"/><path d="M849 868 Q850 861.5 855.5 862 Q861 863 860.5 872 L860 892 L856.5 894 Q855 884 853 876 Q851 870 849 868Z" fill="#a3845e"/><g fill="#000"><text x="976" y="169.5" font-family="Liberation Sans, sans-serif" font-weight="bold" font-size="47.8" stroke="#000" stroke-width="0.7" textLength="133" lengthAdjust="spacingAndGlyphs">STEP 1</text><text x="976.5" y="214.2" font-family="Liberation Sans, sans-serif" font-weight="bold" font-size="24.5" stroke="#000" stroke-width="0.3" textLength="198" lengthAdjust="spacingAndGlyphs">LOAD OUR WEBSITE</text><text x="976" y="243.6" font-family="Liberation Sans, sans-serif" font-size="16.8" stroke="#000" stroke-width="0.3" textLength="223" lengthAdjust="spacingAndGlyphs">Head to www.advanta.com.au.</text><text x="976" y="264.4" font-family="Liberation Sans, sans-serif" font-size="16.8" stroke="#000" stroke-width="0.3" textLength="292" lengthAdjust="spacingAndGlyphs">Look around, enjoy our banner updates!</text><text x="976" y="529.2" font-family="Liberation Sans, sans-serif" font-weight="bold" font-size="47.8" stroke="#000" stroke-width="0.7" textLength="136" lengthAdjust="spacingAndGlyphs">STEP 2</text><text x="976.5" y="573.9" font-family="Liberation Sans, sans-serif" font-weight="bold" font-size="24.5" stroke="#000" stroke-width="0.3" textLength="211" lengthAdjust="spacingAndGlyphs">NAVIGATE MENU BAR</text><text x="976" y="603.3" font-family="Liberation Sans, sans-serif" font-size="16.8" stroke="#000" stroke-width="0.3" textLength="346" lengthAdjust="spacingAndGlyphs">Head towards our Product dropdown menu bar.</text><text x="976" y="624.1" font-family="Liberation Sans, sans-serif" font-size="16.8" stroke="#000" stroke-width="0.3" textLength="497" lengthAdjust="spacingAndGlyphs">Select Type of Chair / Space you&#8217;d like to fill or the All products drop</text><text x="976" y="644.9" font-family="Liberation Sans, sans-serif" font-size="16.8" stroke="#000" stroke-width="0.3" textLength="90" lengthAdjust="spacingAndGlyphs">down menu!</text><text x="976" y="894.2" font-family="Liberation Sans, sans-serif" font-weight="bold" font-size="47.8" stroke="#000" stroke-width="0.7" textLength="136" lengthAdjust="spacingAndGlyphs">STEP 3</text><text x="976.5" y="938.9" font-family="Liberation Sans, sans-serif" font-weight="bold" font-size="24.5" stroke="#000" stroke-width="0.3" textLength="183" lengthAdjust="spacingAndGlyphs">FIND YOUR CHAIR!</text><text x="976" y="968.3" font-family="Liberation Sans, sans-serif" font-size="16.8" stroke="#000" stroke-width="0.3" textLength="503" lengthAdjust="spacingAndGlyphs">Look towards your left and enjoy our different search attribute filters.</text><text x="976" y="989.1" font-family="Liberation Sans, sans-serif" font-size="16.8" stroke="#000" stroke-width="0.3" textLength="455" lengthAdjust="spacingAndGlyphs">Select the type of chair attributes / features you&#8217;re looking for.</text><text x="976" y="1009.9" font-family="Liberation Sans, sans-serif" font-size="16.8" stroke="#000" stroke-width="0.3" textLength="265" lengthAdjust="spacingAndGlyphs">Enjoy your search and explore away!</text></g></svg></body></html>
